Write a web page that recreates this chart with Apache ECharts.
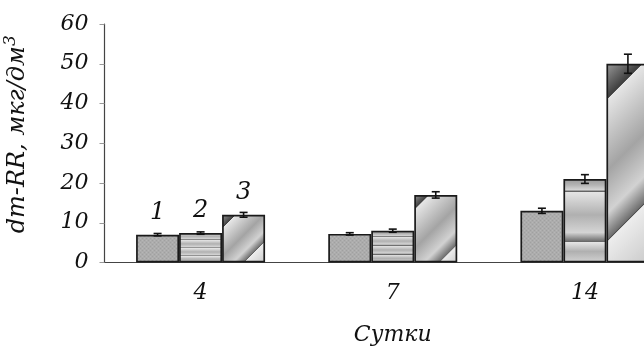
<!DOCTYPE html>
<html><head><meta charset="utf-8">
<script src="https://cdn.jsdelivr.net/npm/echarts@6/dist/echarts.min.js"></script>
<style>html,body{margin:0;padding:0;background:#fff;overflow:hidden;width:644px;height:350px}#c{width:681px;height:350px}</style>
</head><body><div id="c"></div>
<script>
// ---- data ----
const categories = ['4', '7', '14'];
const seriesNames = ['1', '2', '3'];
const values1 = [7.0, 7.2, 13.0];
const values2 = [7.4, 8.0, 21.0];
const values3 = [12.0, 17.0, 50.0];
const errors1 = [0.3, 0.3, 0.65];
const errors2 = [0.3, 0.4, 1.1];
const errors3 = [0.6, 0.8, 2.4];
const yTicks = [0, 10, 20, 30, 40, 50, 60];
const xName = 'Сутки';
const yNameMain = 'dm-RR, мкг/дм';
const yNameSup = '3';

// ---- styles ----
const FONT = 'DejaVu Serif';
const BAR_W = 43;
const stripeLines = [[0.24, 0.52, 0.79], [0.2, 0.48, 0.76], [0.16, 0.76]];
const diagEdges = [[0.155, 0.77], [0.135, 0.84], [0.15, 0.74]];

function dotTile() {
  const c = document.createElement('canvas'); c.width = 4; c.height = 4;
  const g = c.getContext('2d');
  g.fillStyle = '#acacac'; g.fillRect(0, 0, 4, 4);
  g.fillStyle = '#a0a0a0'; g.fillRect(0, 0, 1, 1); g.fillRect(2, 2, 1, 1);
  g.fillStyle = '#b6b6b6'; g.fillRect(2, 0, 1, 1); g.fillRect(0, 2, 1, 1);
  return c;
}
function stripeGradient(lines) {
  const stops = [];
  let prev = 0;
  const bounds = lines.concat([1]);
  bounds.forEach((b, idx) => {
    const span = b - prev;
    const first = idx === 0 && lines.length === 2;
    stops.push({offset: prev, color: first ? '#9a9a9a' : '#e4e4e4'});
    stops.push({offset: prev + span * 0.45, color: first ? '#b4b4b4' : '#b0b0b0'});
    if (b < 1) {
      stops.push({offset: prev + span * 0.8, color: '#d4d4d4'});
      stops.push({offset: b - 0.012, color: '#6a6a6a'});
      stops.push({offset: b, color: '#3a3a3a'});
    } else {
      stops.push({offset: 1, color: '#d2d2d2'});
    }
    prev = b;
  });
  return {type: 'linear', x: 0, y: 0, x2: 0, y2: 1, colorStops: stops, global: false};
}
function diagStops(e) {
  const [e1, e2] = e;
  const m = (e1 + e2) / 2;
  return [
    {offset: 0, color: '#9a9a9a'},
    {offset: e1 - 0.002, color: '#3e3e3e'},
    {offset: e1, color: '#e6e6e6'},
    {offset: m, color: '#a4a4a4'},
    {offset: e2 - (e2 - e1) * 0.2, color: '#d2d2d2'},
    {offset: e2 - 0.01, color: '#707070'},
    {offset: e2 - 0.002, color: '#444444'},
    {offset: e2, color: '#ededed'},
    {offset: 1, color: '#cacaca'}
  ];
}

const chart = echarts.init(document.getElementById('c'), null, {renderer: 'canvas'});

function errorSeries(k, vals, errs) {
  return {
    type: 'custom', z: 10, silent: true,
    data: vals.map((v, i) => [i, v, errs[i]]),
    renderItem: function (params, api) {
      const i = api.value(0), v = api.value(1), e = api.value(2);
      const c = api.coord([i, v]);
      const x = c[0] + (k - 1) * BAR_W;
      const yT = api.coord([i, v + e])[1], yB = api.coord([i, v - e])[1];
      const cap = 4;
      const st = {stroke: '#111', lineWidth: 1.6};
      return {type: 'group', children: [
        {type: 'line', shape: {x1: x, y1: yT, x2: x, y2: yB}, style: st},
        {type: 'line', shape: {x1: x - cap, y1: yT, x2: x + cap, y2: yT}, style: st},
        {type: 'line', shape: {x1: x - cap, y1: yB, x2: x + cap, y2: yB}, style: st}
      ]};
    }
  };
}

const labelCfg = {
  show: true, position: 'top', distance: 10,
  fontFamily: FONT, fontStyle: 'italic', fontSize: 24, color: '#111',
  formatter: p => p.dataIndex === 0 ? p.seriesName : ''
};
const border = {borderColor: '#1a1a1a', borderWidth: 1.7};

const option = {
  animation: false,
  backgroundColor: '#fff',
  grid: {left: 104.5, right: 0, top: 24, bottom: 87.5, containLabel: false, outerBoundsMode: 'none'},
  xAxis: {
    type: 'category', data: categories,
    name: xName, nameLocation: 'middle', nameGap: 62,
    nameTextStyle: {fontFamily: FONT, fontStyle: 'italic', fontSize: 22, color: '#111'},
    axisLine: {lineStyle: {color: '#444', width: 1.2}},
    axisTick: {show: false},
    axisLabel: {fontFamily: FONT, fontStyle: 'italic', fontSize: 22, color: '#111', margin: 20}
  },
  yAxis: {
    type: 'value', min: yTicks[0], max: yTicks[yTicks.length - 1], interval: yTicks[1] - yTicks[0],
    name: yNameMain + '{s|' + yNameSup + '}', nameLocation: 'middle', nameRotate: 90, nameGap: 72,
    nameTextStyle: {fontFamily: FONT, fontStyle: 'italic', fontSize: 24, color: '#111', padding: [0, 0, 0, 18],
      lineHeight: 30,
      rich: {s: {fontFamily: FONT, fontStyle: 'italic', fontSize: 17, color: '#111', verticalAlign: 'top', lineHeight: 30}}},
    axisLine: {show: true, lineStyle: {color: '#444', width: 1.2}},
    axisTick: {show: true, length: 5, lineStyle: {color: '#999'}},
    splitLine: {show: false},
    axisLabel: {fontFamily: FONT, fontStyle: 'italic', fontSize: 22, color: '#111', margin: 16}
  },
  series: [
    {type: 'bar', id: 'b1', name: seriesNames[0], data: values1, barWidth: BAR_W, barGap: '0%',
     itemStyle: Object.assign({color: {image: dotTile(), repeat: 'repeat'}}, border), label: labelCfg},
    {type: 'bar', id: 'b2', name: seriesNames[1], barWidth: BAR_W, barGap: '0%',
     data: values2.map((v, i) => ({value: v, itemStyle: {color: stripeGradient(stripeLines[i])}})),
     itemStyle: border, label: labelCfg},
    {type: 'bar', id: 'b3', name: seriesNames[2], data: values3, barWidth: BAR_W, barGap: '0%',
     itemStyle: Object.assign({color: '#b8b8b8'}, border), label: labelCfg},
    errorSeries(0, values1, errors1),
    errorSeries(1, values2, errors2),
    errorSeries(2, values3, errors3)
  ]
};
chart.setOption(option);

// diagonal fill for series 3, aligned to each bar's own layout from the library
try {
  const d = chart.getModel().getSeriesByIndex(2).getData();
  const items = values3.map((v, i) => {
    const L = d.getItemLayout(i);
    const w = Math.abs(L.width), h = Math.abs(L.height);
    const a = (w + h) / 2;
    return {value: v, itemStyle: {color: {
      type: 'linear', x: 0, y: 0, x2: a / w, y2: a / h, global: false,
      colorStops: diagStops(diagEdges[i])
    }}};
  });
  chart.setOption({series: [{id: 'b3', data: items}]});
} catch (e) {}
</script>
</body></html>
